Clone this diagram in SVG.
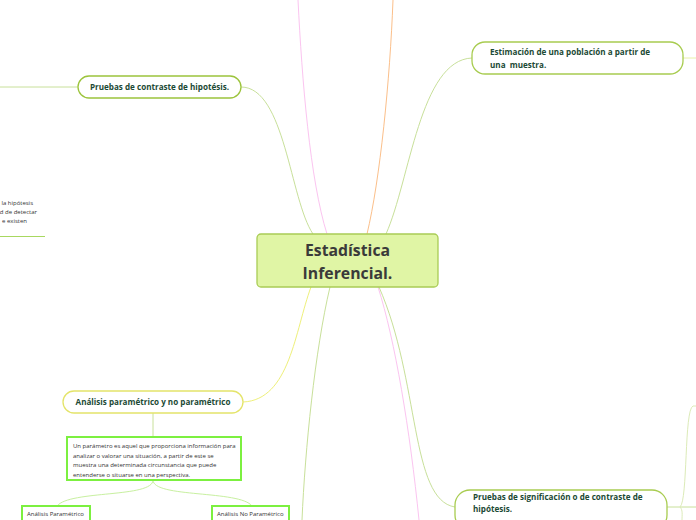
<svg xmlns="http://www.w3.org/2000/svg" width="696" height="520" viewBox="0 0 696 520">
<style>
.c{fill:none;stroke-width:1}
.lbl{font-family:"Open Sans","Noto Sans",sans-serif;font-weight:bold;font-size:8.1px;fill:#1c4a35}
.sm{font-family:"Open Sans","Noto Sans",sans-serif;font-size:6px;fill:#333}
.pill{fill:#fff;stroke-width:1.3}
.box{fill:#fff;stroke:#7cf040;stroke-width:2}
</style>
<rect width="696" height="520" fill="#fff"/>
<g id="connectors">
<path class="c" stroke="#c8e09a" d="M0,87 H78"/>
<path class="c" stroke="#c8e09a" d="M241,87 C285,87 290,200 313,234"/>
<path class="c" stroke="#fbc4f0" d="M298,0 C302,80 310,180 327,234"/>
<path class="c" stroke="#fbbf8a" d="M393,0 C390,80 380,180 367,234"/>
<path class="c" stroke="#c8e09a" d="M386,234 C410,180 420,60 472,58"/>
<path class="c" stroke="#e8f0a8" d="M683,58 H696"/>
<path class="c" stroke="#eef07a" d="M243,402 C290,400 295,330 311,287"/>
<path class="c" stroke="#c8e09a" d="M330,287 C315,350 305,450 302,520"/>
<path class="c" stroke="#fbc4f0" d="M378,287 C395,340 410,430 419,520"/>
<path class="c" stroke="#c8e09a" d="M379,287 C420,380 410,500 455,507"/>
<path class="c" stroke="#c8e09a" d="M667,507 H696"/>
<path class="c" stroke="#dcebb8" d="M680,507 C688,500 684,410 693,406 H696"/>
<path class="c" stroke="#dcebb8" d="M680,507 C683,510 682,515 682,520"/>
<path class="c" stroke="#c8e09a" d="M153,413 V437"/>
<path class="c" stroke="#c8f0a0" d="M153,480 C153,498 70,490 57,506"/>
<path class="c" stroke="#c8f0a0" d="M153,480 C153,498 240,490 252,506"/>
<path class="c" stroke="#a8d860" stroke-width="1.5" d="M0,236.5 H45"/>
</g>
<g id="central">
<rect x="257" y="234" width="181" height="53" rx="4" fill="#e0f5a5" stroke="#a9cc55" stroke-width="1.3"/>
<text x="347.5" y="256" text-anchor="middle" font-family="'Open Sans','Noto Sans',sans-serif" font-weight="bold" font-size="15.8" fill="#3a3a3a">Estadística</text>
<text x="347.5" y="279" text-anchor="middle" font-family="'Open Sans','Noto Sans',sans-serif" font-weight="bold" font-size="15.8" fill="#3a3a3a">Inferencial.</text>
</g>
<g id="pruebas-contraste">
<rect class="pill" x="78" y="76" width="163" height="22" rx="11" stroke="#9cc43c"/>
<text class="lbl" x="159.5" y="90" text-anchor="middle">Pruebas de contraste de hipotésis.</text>
</g>
<g id="estimacion">
<rect class="pill" x="472" y="42" width="211" height="32" rx="13" stroke="#a8cc50"/>
<text class="lbl" x="490" y="55">Estimación de una población a partir de</text>
<text class="lbl" x="490" y="67.5" xml:space="preserve">una  muestra.</text>
</g>
<g id="analisis">
<rect class="pill" x="63" y="391" width="180" height="22" rx="11" stroke="#e4e46a"/>
<text class="lbl" x="153" y="405" text-anchor="middle">Análisis paramétrico y no paramétrico</text>
</g>
<g id="descripcion">
<rect class="box" x="67" y="437" width="174" height="43"/>
<text class="sm" x="73" y="448">Un parámetro es aquel que proporciona información para</text>
<text class="sm" x="73" y="457.5">analizar o valorar una situación, a partir de este se</text>
<text class="sm" x="73" y="467">muestra una determinada circunstancia que puede</text>
<text class="sm" x="73" y="476.5">entenderse o situarse en una perspectiva.</text>
</g>
<g id="parametrico">
<rect class="box" x="22" y="506" width="68" height="20"/>
<text class="sm" x="27" y="516">Análisis Paramétrico</text>
</g>
<g id="no-parametrico">
<rect class="box" x="212" y="506" width="77" height="20"/>
<text class="sm" x="217" y="516">Análisis No Paramétrico</text>
</g>
<g id="significacion">
<rect class="pill" x="455" y="490" width="212" height="40" rx="15" stroke="#a8cc50"/>
<text class="lbl" x="473" y="500">Pruebas de significación o de contraste de</text>
<text class="lbl" x="473" y="512">hipótesis.</text>
</g>
<g id="left-text">
<text class="sm" x="33" y="205" text-anchor="end">la hipótesis</text>
<text class="sm" x="37" y="214" text-anchor="end">ad de detectar</text>
<text class="sm" x="27" y="223" text-anchor="end">e existen</text>
</g>
</svg>
